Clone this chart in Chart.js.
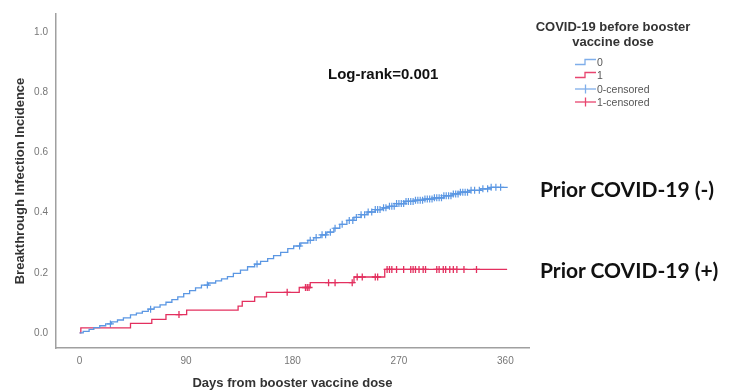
<!DOCTYPE html>
<html>
<head>
<meta charset="utf-8">
<script src="https://cdn.jsdelivr.net/npm/chart.js@4.4.1/dist/chart.umd.min.js"></script>
<style>
  html, body { margin:0; padding:0; background:#fff; }
  #wrap { position:relative; width:731px; height:392px; overflow:hidden; font-family:"Liberation Sans", Arial, sans-serif; }
  canvas { position:absolute; left:0; top:0; }
  .txt { position:absolute; white-space:nowrap; }
  .prior { font-family: Lato, "Open Sans", sans-serif; font-weight:700; font-size:21px; color:#111; line-height:26px; }
  .lg { position:absolute; left:575px; width:140px; height:14px; font-size:10.5px; color:#555; line-height:14px; }
  .lg svg { position:absolute; left:0; top:0; }
  .lg span { position:absolute; left:22px; top:0; }
</style>
</head>
<body>
<div id="wrap">
  <canvas id="c" width="731" height="392"></canvas>
  <div class="txt" style="left:328px; top:65px; font-size:15px; font-weight:700; color:#111; line-height:18px;">Log-rank=0.001</div>
  <div class="txt prior" style="left:540px; top:176px;">Prior COVID-19 (-)</div>
  <div class="txt prior" style="left:540px; top:257px;">Prior COVID-19 (+)</div>
  <div class="txt" style="left:513px; top:20px; width:200px; text-align:center; font-size:13px; font-weight:700; color:#333; line-height:14.5px;">COVID-19 before booster<br>vaccine dose</div>
  <div class="lg" style="top:55px;"><svg width="22" height="14"><polyline points="0,9.5 10,9.5 10,4.5 21,4.5" fill="none" stroke="#7FAEEA" stroke-width="1.3"/></svg><span>0</span></div>
  <div class="lg" style="top:68px;"><svg width="22" height="14"><polyline points="0,9.5 10,9.5 10,4.5 21,4.5" fill="none" stroke="#E8456F" stroke-width="1.3"/></svg><span>1</span></div>
  <div class="lg" style="top:82px;"><svg width="22" height="14"><line x1="0" y1="7" x2="21" y2="7" stroke="#7FAEEA" stroke-width="1.3"/><line x1="10.5" y1="2.5" x2="10.5" y2="11.5" stroke="#7FAEEA" stroke-width="1.3"/></svg><span>0-censored</span></div>
  <div class="lg" style="top:95px;"><svg width="22" height="14"><line x1="0" y1="7" x2="21" y2="7" stroke="#E8456F" stroke-width="1.3"/><line x1="10.5" y1="2.5" x2="10.5" y2="11.5" stroke="#E8456F" stroke-width="1.3"/></svg><span>1-censored</span></div>
</div>
<script>
// Tick labels
const xTicks = [0, 90, 180, 270, 360];
const yTicks = [0.0, 0.2, 0.4, 0.6, 0.8, 1.0];

// Group 0 (no prior COVID-19): event days and cumulative incidence
const blueDays = [0,3,8,12,17,22,27,32,37,43,48,53,58,63,68,73,78,83,88,93,98,103,109,115,120,125,130,136,142,148,153,159,164,170,176,181,187,193,198,204,209,215,220,226,232,238,243,250,256,262,268,275,283,291,300,308,315,322,330,339,348,362];
const blueVals = [0,0.005,0.012,0.018,0.024,0.030,0.037,0.043,0.050,0.060,0.066,0.072,0.079,0.086,0.093,0.102,0.111,0.120,0.131,0.141,0.150,0.159,0.166,0.173,0.180,0.187,0.198,0.209,0.220,0.229,0.238,0.247,0.257,0.268,0.280,0.289,0.299,0.308,0.317,0.326,0.335,0.348,0.361,0.374,0.384,0.393,0.402,0.410,0.416,0.421,0.430,0.437,0.441,0.445,0.449,0.456,0.462,0.468,0.474,0.479,0.484,0.484];
const blueCensored = [26,60,108,150,186,195,200,205,208,212,216,222,228,231,234,238,241,244,247,250,252,254,257,259,262,264,266,268,270,272,274,276,278,280,282,284,286,288,290,292,294,296,298,300,302,304,306,308,310,312,314,316,318,320,322,324,326,328,331,334,338,341,345,348,352,356];

// Group 1 (prior COVID-19)
const redDays = [0,1,43,61,73,90.5,134,137.5,148,158,185.7,195,232,258,361.5];
const redVals = [0,0.017,0.032,0.045,0.061,0.076,0.089,0.105,0.120,0.135,0.151,0.167,0.186,0.211,0.211];
const redCensored = [84,175.5,191,192.5,194,210.5,216,230.5,234.7,239,250,252,260,262,264,268,274,280,282,284,287,290.5,292.5,302,304,307.5,309.5,313,316,319,325,335.6];

const BLUE = '#5B97E3';
const RED = '#E3305F';

function pairs(d, v) { return d.map((x, i) => ({x: x, y: v[i]})); }
function stepAt(d, v, t) { let y = v[0]; for (let i = 0; i < d.length; i++) { if (d[i] <= t) y = v[i]; } return y; }
function censorPts(c, d, v) { return c.map(t => ({x: t, y: stepAt(d, v, t)})); }

new Chart(document.getElementById('c'), {
  type: 'line',
  data: {
    datasets: [
      { data: pairs(blueDays, blueVals), borderColor: BLUE, borderWidth: 1.3, stepped: true, pointRadius: 0, fill: false },
      { data: pairs(redDays, redVals), borderColor: RED, borderWidth: 1.3, stepped: true, pointRadius: 0, fill: false },
      { data: censorPts(blueCensored, blueDays, blueVals), showLine: false, pointStyle: 'cross', pointRadius: 3.5, borderColor: BLUE, borderWidth: 1.2, pointHoverRadius: 3.5 },
      { data: censorPts(redCensored, redDays, redVals), showLine: false, pointStyle: 'cross', pointRadius: 3.5, borderColor: RED, borderWidth: 1.3, pointHoverRadius: 3.5 }
    ]
  },
  options: {
    responsive: false,
    animation: false,
    events: [],
    layout: { padding: { left: 9, right: 202, top: 13, bottom: 0 } },
    plugins: { legend: { display: false }, tooltip: { enabled: false } },
    scales: {
      x: {
        type: 'linear', min: -20, max: 380,
        afterBuildTicks: s => { s.ticks = xTicks.map(v => ({value: v})); },
        afterFit: s => { s.height = 44; },
        grid: { display: false, drawTicks: false },
        border: { display: true, color: '#A0A0A0', width: 1.5 },
        ticks: { color: '#777', font: { family: 'Liberation Sans', size: 10 }, padding: 7, maxRotation: 0, callback: v => String(v) },
        title: { display: true, text: 'Days from booster vaccine dose', color: '#333', font: { family: 'Liberation Sans', size: 13, weight: 'bold' }, padding: { top: 0, bottom: 1 } }
      },
      y: {
        type: 'linear', min: -0.05, max: 1.06,
        afterBuildTicks: s => { s.ticks = yTicks.map(v => ({value: v})); },
        afterFit: s => { s.width = 47; },
        grid: { display: false, drawTicks: false },
        border: { display: true, color: '#A0A0A0', width: 1.5 },
        ticks: { color: '#777', font: { family: 'Liberation Sans', size: 10 }, padding: 8, callback: v => Number(v).toFixed(1) },
        title: { display: true, text: 'Breakthrough Infection Incidence', color: '#333', font: { family: 'Liberation Sans', size: 13, weight: 'bold' }, padding: { top: 4, bottom: 0 } }
      }
    }
  }
});
</script>
</body>
</html>
